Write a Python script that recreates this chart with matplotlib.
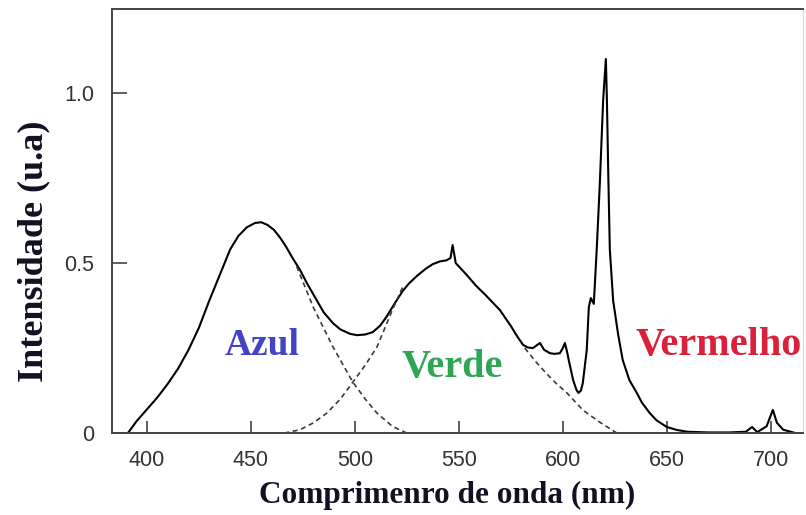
#!/usr/bin/env python
# -*- coding: utf-8 -*-

"""
Espectro de emissao de um LED branco (RGB) com as bandas azul, verde e
vermelha; as curvas tracejadas mostram as bandas azul e verde separadas.
"""

import matplotlib
matplotlib.use('Agg')
import matplotlib.pyplot as plt # plotting


#==============================================================================

# espectro total (nm, u.a.)
wl = [390.8, 395, 400, 405, 410, 415, 420, 425, 430, 435, 440, 444, 448,
      452, 455, 458, 461, 464, 467, 470, 473.6, 477, 481.7, 485, 489.5, 493,
      497.6, 501, 505, 508.6, 512, 515, 519, 523, 526, 530, 534, 537.5, 541,
      544, 546, 547, 548.5, 550, 553.8, 558, 563, 569.7, 575, 578, 580.8,
      583, 585.6, 589, 591, 593.8, 596, 598.6, 600, 601, 602, 603, 605,
      606.5, 607.5, 608.7, 609.6, 611.5, 612.5, 613.5, 614.9, 616.3, 617.8,
      619.4, 620.7, 621.2, 621.8, 622.6, 624.2, 626.6, 628.8, 632, 635.6,
      638, 641.8, 645, 650, 655, 660, 670, 680, 688, 691, 693.5, 698, 701,
      703, 706, 712, 716]
inten = [0.0, 0.035, 0.07, 0.105, 0.145, 0.19, 0.245, 0.31, 0.39, 0.465,
         0.54, 0.58, 0.605, 0.618, 0.62, 0.612, 0.598, 0.575, 0.547, 0.515,
         0.48, 0.44, 0.39, 0.355, 0.323, 0.305, 0.292, 0.288, 0.29, 0.297,
         0.315, 0.34, 0.38, 0.418, 0.44, 0.463, 0.483, 0.497, 0.505, 0.508,
         0.515, 0.553, 0.50, 0.49, 0.465, 0.435, 0.405, 0.362, 0.315, 0.285,
         0.26, 0.252, 0.25, 0.265, 0.245, 0.235, 0.233, 0.235, 0.25, 0.265,
         0.24, 0.21, 0.155, 0.128, 0.118, 0.125, 0.147, 0.244, 0.37, 0.397,
         0.38, 0.54, 0.735, 0.98, 1.10, 0.98, 0.78, 0.54, 0.39, 0.29, 0.215,
         0.156, 0.118, 0.09, 0.059, 0.038, 0.018, 0.009, 0.004, 0.002, 0.002,
         0.004, 0.018, 0.003, 0.02, 0.068, 0.03, 0.01, 0.0, 0.0]

# cauda direita da banda azul
blue_wl = [472, 480, 489.5, 499, 505, 510.6, 518, 525]
blue_int = [0.49, 0.37, 0.253, 0.15, 0.10, 0.059, 0.02, 0.0]

# cauda esquerda da banda verde
green_l_wl = [466, 473.6, 480, 486.5, 493, 499, 505, 510.6, 518, 523]
green_l_int = [0.0, 0.01, 0.03, 0.059, 0.10, 0.15, 0.20, 0.253, 0.362, 0.43]

# cauda direita da banda verde
green_r_wl = [581.7, 587, 592, 597, 602, 609.6, 617.8, 626]
green_r_int = [0.25, 0.21, 0.176, 0.145, 0.118, 0.068, 0.032, 0.0]

xticks = [400, 450, 500, 550, 600, 650, 700]
yticks = [0, 0.5, 1.0]
ytick_labels = ['0', '0.5', '1.0']

bands = ['Azul', 'Verde', 'Vermelho']
band_x = [455.3, 547.0, 675.0]
band_y = [0.229, 0.165, 0.229]
band_size = [27, 29, 29]
band_colors = ['#4343c4', '#2fa556', '#d9213b']


#==============================================================================

def main():

    fig = plt.figure(figsize=(8.06, 5.15), dpi=100)
    fig.patch.set_facecolor('white')
    ax = fig.add_axes([0.139, 0.159, 0.857, 0.8235])

    ax.plot(wl, inten, color='k', lw=1.5)

    dash = dict(color='#3a3a3a', lw=1.2, ls=(0, (3, 2.2)))
    ax.plot(blue_wl, blue_int, **dash)
    ax.plot(green_l_wl, green_l_int, **dash)
    ax.plot(green_r_wl, green_r_int, **dash)

    for name, x, y, s, c in zip(bands, band_x, band_y, band_size, band_colors):
        ax.text(x, y, name, color=c, ha='center', va='baseline',
                fontsize=s, fontweight='bold', family='Liberation Serif')

    ax.set_xlim(383.2, 715.4)
    ax.set_ylim(0, 1.247)

    ax.set_xticks(xticks)
    ax.set_yticks(yticks)
    ax.set_yticklabels(ytick_labels)
    ax.tick_params(axis='x', direction='in', length=9, width=1.2,
                   color='#444444', pad=12, labelsize=15.5,
                   labelcolor='#333333')
    ax.tick_params(axis='y', direction='in', length=11, width=1.2,
                   color='#444444', pad=13, labelsize=15.5,
                   labelcolor='#333333')
    for lab in ax.get_xticklabels() + ax.get_yticklabels():
        lab.set_family('Liberation Sans')

    for side in ['left', 'bottom', 'top']:
        ax.spines[side].set_color('#444444')
        ax.spines[side].set_linewidth(1.4)
    ax.spines['right'].set_color('#dddddd')
    ax.spines['right'].set_linewidth(1.0)

    ax.set_xlabel('Comprimenro de onda (nm)', fontsize=22.5, fontweight='bold',
                  family='Liberation Serif', color='#111122')
    ax.set_ylabel('Intensidade (u.a)', fontsize=26, fontweight='bold',
                  family='Liberation Serif', color='#111122')
    ax.xaxis.set_label_coords(0.485, -0.113)
    ax.yaxis.set_label_coords(-0.09, 0.43)

    fig.savefig('out.png', dpi=100)


if __name__ == "__main__":

    main()
